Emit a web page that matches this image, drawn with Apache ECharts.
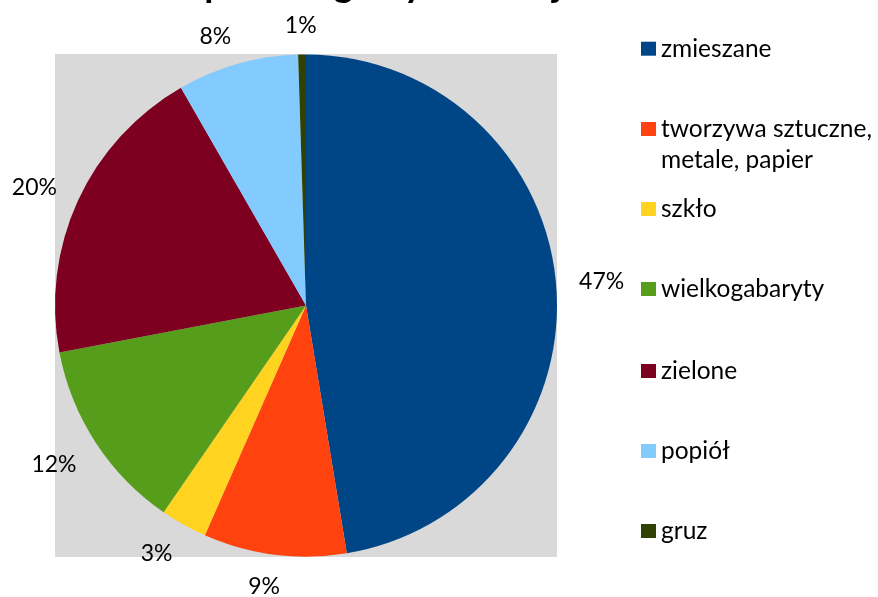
<!DOCTYPE html>
<html>
<head>
<meta charset="utf-8">
<script src="https://cdn.jsdelivr.net/npm/echarts@6/dist/echarts.min.js"></script>
<style>
html,body{margin:0;padding:0;background:#fff;}
#chart{width:878px;height:597px;}
</style>
</head>
<body>
<div id="chart"></div>
<script>
const titleText = 'Udział poszczególnych frakcji';
const categories = ['zmieszane', 'tworzywa sztuczne, metale, papier', 'szkło', 'wielkogabaryty', 'zielone', 'popiół', 'gruz'];
const values = [47.4, 9.2, 3.0, 12.4, 19.7, 7.8, 0.5];
const colors = ['#004586', '#ff420e', '#ffd320', '#579d1c', '#7e0021', '#83caff', '#314004'];

const FONT = 'Lato';
const legendCenters = [48.7, 129, 209, 289, 371, 451, 531];

function clamp(v) { return Math.max(-1, Math.min(1, v)); }

const legends = categories.map(function (name, i) {
  const multi = name.indexOf(', metale') >= 0;
  return {
    data: [name],
    orient: 'vertical',
    left: 641,
    top: multi ? legendCenters[i] - 46.5 : legendCenters[i] - 15.5,
    padding: 0,
    itemWidth: 15,
    itemHeight: 14,
    icon: 'rect',
    selectedMode: false,
    formatter: function (n) {
      return n.indexOf(', metale') >= 0 ? '\n' + n.replace('sztuczne, ', 'sztuczne,\n') : n;
    },
    textStyle: { fontFamily: FONT, fontSize: 24.5, color: '#000', lineHeight: 31 }
  };
});

const chart = echarts.init(document.getElementById('chart'), null, { renderer: 'canvas' });
chart.setOption({
  animation: false,
  backgroundColor: '#fff',
  title: {
    text: titleText,
    left: 90,
    top: -33,
    padding: 0,
    textStyle: { fontFamily: FONT, fontWeight: 'bold', fontSize: 37, color: '#000' }
  },
  graphic: [{
    type: 'rect',
    z: -10,
    silent: true,
    shape: { x: 55, y: 54, width: 502, height: 503 },
    style: { fill: '#d9d9d9' }
  }],
  legend: legends,
  series: [{
    type: 'pie',
    center: [306, 305.5],
    radius: 251,
    startAngle: 90,
    clockwise: true,
    percentPrecision: 0,
    avoidLabelOverlap: false,
    color: colors,
    itemStyle: { borderWidth: 0 },
    label: {
      show: true,
      position: 'outside',
      formatter: '{d}%',
      fontFamily: FONT,
      fontSize: 23,
      color: '#000'
    },
    labelLine: { show: true, length: 10, length2: 0, lineStyle: { opacity: 0 } },
    labelLayout: function (p) {
      const pts = p.labelLinePoints;
      if (!pts) return {};
      const dx = pts[1][0] - pts[0][0], dy = pts[1][1] - pts[0][1];
      const len = Math.sqrt(dx * dx + dy * dy) || 1;
      const ux = dx / len, uy = dy / len;
      const w = p.labelRect.width, h = p.labelRect.height;
      const g = 23;
      const ox = clamp(3.8 * ux) * w / 2;
      const oy = uy > 0 ? clamp(2 * uy) * (h / 2 - 1) : uy * 4.2;
      return {
        x: pts[0][0] + ux * g + ox,
        y: pts[0][1] + uy * g + oy - 1.5,
        align: 'center',
        verticalAlign: 'middle'
      };
    },
    emphasis: { disabled: true },
    data: categories.map(function (c, i) { return { name: c, value: values[i] }; })
  }]
});
</script>
</body>
</html>
